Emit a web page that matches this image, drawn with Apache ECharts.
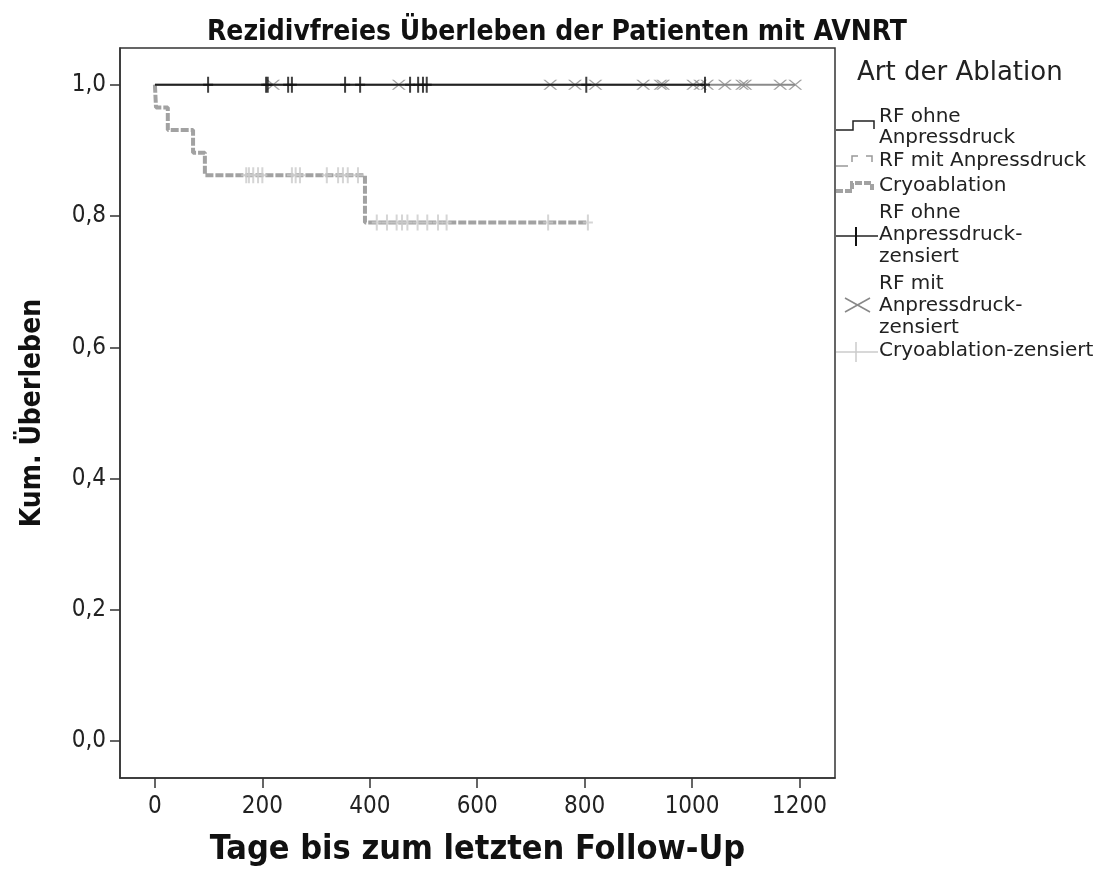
<!DOCTYPE html>
<html>
<head>
<meta charset="utf-8">
<script src="https://cdn.jsdelivr.net/npm/echarts@6/dist/echarts.min.js"></script>
<style>html,body{margin:0;padding:0;background:#fff}#c{width:1112px;height:876px}</style>
</head>
<body>
<div id="c"></div>
<script>
// ---- data (days) ----
const xTicks = [0, 200, 400, 600, 800, 1000, 1200];
const yTicks = [0, 0.2, 0.4, 0.6, 0.8, 1.0];

const rfOhneEvents = [];
const rfOhneCensored = [99, 207, 210, 248, 255, 354, 382, 475, 490, 499, 506, 803, 1024];

const rfMitEvents = [];
const rfMitCensored = [220, 454, 736, 782, 820, 909, 941, 946, 1002, 1015, 1028, 1061, 1093, 1099, 1164, 1192];

const cryoEvents = [2, 24, 71, 93, 391];
const cryoCensored = [170, 175, 183, 192, 200, 255, 262, 270, 320, 341, 350, 359, 378,
                      413, 432, 450, 460, 470, 489, 507, 527, 543, 732, 806];

// Kaplan-Meier estimate
function km(events, censored) {
  const all = events.map(t => ({t, e: 1})).concat(censored.map(t => ({t, e: 0})))
    .sort((a, b) => a.t - b.t || b.e - a.e);
  let atRisk = all.length, s = 1, last = 0;
  const pts = [[0, 1]], cens = [];
  for (const o of all) {
    if (o.e) { s *= (atRisk - 1) / atRisk; pts.push([o.t, s]); }
    else cens.push([o.t, s]);
    atRisk--; last = o.t;
  }
  pts.push([last, s]);
  return {pts, cens};
}
const kOhne = km(rfOhneEvents, rfOhneCensored);
const kMit = km(rfMitEvents, rfMitCensored);
const kCryo = km(cryoEvents, cryoCensored);

const FONTC = '"DejaVu Sans Condensed", "DejaVu Sans", sans-serif';

const plusPath = 'path://M4,0h2v16h-2z M0,7h10v2h-10z';
const xPath = 'path://M0,0L2,0L14,10L12,10Z M12,0L14,0L2,10L0,10Z';

const chart = echarts.init(document.getElementById('c'), null, {renderer: 'canvas'});
chart.setOption({
  animation: false,
  backgroundColor: '#fff',
  title: {
    text: 'Rezidivfreies Überleben der Patienten mit AVNRT',
    left: 552, top: 14, textAlign: 'center',
    textStyle: {fontFamily: FONTC, fontWeight: 'bold', fontSize: 28, color: '#111'}
  },
  grid: {left: 120, right: 277, top: 48, bottom: 98, show: true, borderColor: '#333', borderWidth: 1.5},
  xAxis: {
    type: 'value', min: -65, max: 1266,
    name: 'Tage bis zum letzten Follow-Up', nameLocation: 'middle', nameGap: 55,
    nameTextStyle: {fontFamily: FONTC, fontWeight: 'bold', fontSize: 34, color: '#111'},
    axisLine: {show: true, onZero: false, lineStyle: {color: '#333', width: 1.5}},
    axisTick: {show: true, length: 10, customValues: xTicks, lineStyle: {color: '#333', width: 1.5}},
    axisLabel: {customValues: xTicks, margin: 17, fontFamily: FONTC, fontSize: 24, color: '#222',
      formatter: v => String(v)},
    splitLine: {show: false}
  },
  yAxis: {
    type: 'value', min: -0.056, max: 1.056,
    name: 'Kum. Überleben', nameLocation: 'middle', nameGap: 73, nameRotate: 90,
    nameTextStyle: {fontFamily: FONTC, fontWeight: 'bold', fontSize: 28, color: '#111'},
    axisLine: {show: true, onZero: false, lineStyle: {color: '#333', width: 1.5}},
    axisTick: {show: true, length: 10, customValues: yTicks, lineStyle: {color: '#333', width: 1.5}},
    axisLabel: {customValues: yTicks, margin: 14, fontFamily: FONTC, fontSize: 24, color: '#222',
      formatter: v => v.toFixed(1).replace('.', ',')},
    splitLine: {show: false}
  },
  series: [
    {name: 'Cryoablation', type: 'line', step: 'end', data: kCryo.pts, showSymbol: false, z: 2,
      lineStyle: {color: '#a2a2a2', width: 4, type: [8, 2]}},
    {name: 'Cryoablation-zensiert', type: 'scatter', data: kCryo.cens, symbol: plusPath, symbolSize: [10, 16], z: 3,
      itemStyle: {color: '#cbcbcb'}},
    {name: 'RF mit Anpressdruck', type: 'line', step: 'end', data: kMit.pts, showSymbol: false, z: 4,
      lineStyle: {color: '#8a8a8a', width: 2}},
    {name: 'RF mit Anpressdruck-zensiert', type: 'scatter', data: kMit.cens, symbol: xPath, symbolSize: [14, 10], z: 5,
      itemStyle: {color: '#8a8a8a'}},
    {name: 'RF ohne Anpressdruck', type: 'line', step: 'end', data: kOhne.pts, showSymbol: false, z: 6,
      lineStyle: {color: '#222', width: 1.8}},
    {name: 'RF ohne Anpressdruck-zensiert', type: 'scatter', data: kOhne.cens, symbol: plusPath, symbolSize: [10, 16], z: 7,
      itemStyle: {color: '#111'}}
  ],
  graphic: [
    {type: 'text', left: 857, top: 60, style: {text: 'Art der Ablation', font: '26px "DejaVu Sans"', fill: '#222'}},
    // item 1
    {type: 'polyline', shape: {points: [[836,130],[853,130],[853,121],[874,121],[874,129]]}, style: {stroke: '#222', lineWidth: 1.5, fill: null}},
    {type: 'text', left: 879, top: 106, style: {text: 'RF ohne\nAnpressdruck', font: '20px "DejaVu Sans"', lineHeight: 21, fill: '#222'}},
    // item 2
    {type: 'polyline', shape: {points: [[836,166],[852,166],[852,156],[872,156],[872,164]]}, style: {stroke: '#999', lineWidth: 1.5, fill: null, lineDash: [12, 8]}},
    {type: 'text', left: 879, top: 151, style: {text: 'RF mit Anpressdruck', font: '20px "DejaVu Sans"', fill: '#222'}},
    // item 3
    {type: 'polyline', shape: {points: [[836,191],[852,191],[852,183],[872,183],[872,190]]}, style: {stroke: '#a2a2a2', lineWidth: 4, fill: null, lineDash: [7, 2]}},
    {type: 'text', left: 879, top: 176, style: {text: 'Cryoablation', font: '20px "DejaVu Sans"', fill: '#222'}},
    // item 4
    {type: 'line', shape: {x1: 836, y1: 236, x2: 878, y2: 236}, style: {stroke: '#222', lineWidth: 1.5}},
    {type: 'line', shape: {x1: 856, y1: 227, x2: 856, y2: 246}, style: {stroke: '#111', lineWidth: 2}},
    {type: 'text', left: 879, top: 202, style: {text: 'RF ohne\nAnpressdruck-\nzensiert', font: '20px "DejaVu Sans"', lineHeight: 22, fill: '#222'}},
    // item 5
    {type: 'line', shape: {x1: 845, y1: 298, x2: 870, y2: 312}, style: {stroke: '#888', lineWidth: 1.5}},
    {type: 'line', shape: {x1: 845, y1: 312, x2: 870, y2: 298}, style: {stroke: '#888', lineWidth: 1.5}},
    {type: 'text', left: 879, top: 273, style: {text: 'RF mit\nAnpressdruck-\nzensiert', font: '20px "DejaVu Sans"', lineHeight: 22, fill: '#222'}},
    // item 6
    {type: 'line', shape: {x1: 836, y1: 352, x2: 878, y2: 352}, style: {stroke: '#cbcbcb', lineWidth: 1.5}},
    {type: 'line', shape: {x1: 856, y1: 342, x2: 856, y2: 362}, style: {stroke: '#cbcbcb', lineWidth: 1.5}},
    {type: 'text', left: 879, top: 341, style: {text: 'Cryoablation-zensiert', font: '20px "DejaVu Sans"', fill: '#222'}}
  ]
});
</script>
</body>
</html>
